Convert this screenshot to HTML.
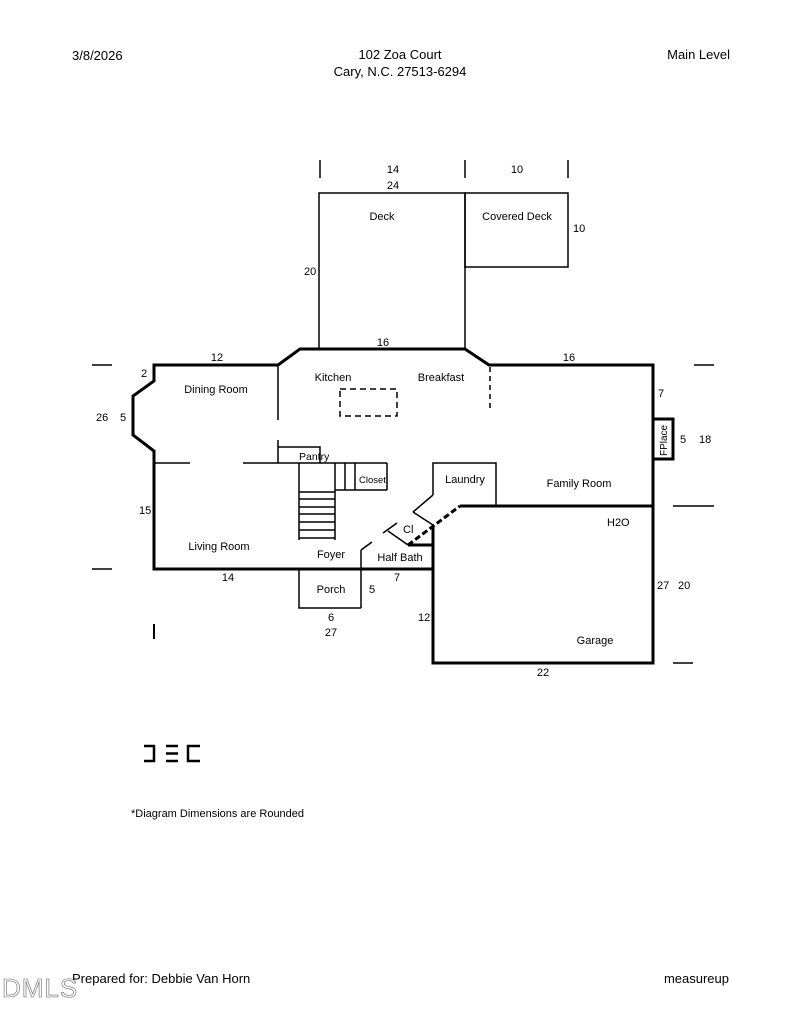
<!DOCTYPE html>
<html><head><meta charset="utf-8"><style>
html,body{margin:0;padding:0;background:#fff;}
svg{display:block;font-family:"Liberation Sans",Arial,sans-serif;}
</style></head><body>
<svg width="800" height="1035" viewBox="0 0 800 1035" xmlns="http://www.w3.org/2000/svg">
<g font-size="13" fill="#000">
<text x="72" y="60">3/8/2026</text>
<text x="400" y="59" text-anchor="middle">102 Zoa Court</text>
<text x="400" y="76" text-anchor="middle">Cary, N.C. 27513-6294</text>
<text x="730" y="59" text-anchor="end">Main Level</text>
</g>
<g stroke="#000" fill="none" stroke-width="1.5">
<!-- top ticks -->
<line x1="320" y1="160" x2="320" y2="178"/><line x1="465" y1="160" x2="465" y2="178"/><line x1="568" y1="160" x2="568" y2="178"/>
<!-- deck -->
<rect x="319" y="193" width="146" height="156"/>
<rect x="465" y="193" width="103" height="74"/>
<!-- side ticks -->
<line x1="92" y1="365" x2="112" y2="365"/><line x1="92" y1="569" x2="112" y2="569"/>
<line x1="694" y1="365" x2="714" y2="365"/><line x1="673" y1="506" x2="714" y2="506"/>
<line x1="673" y1="663" x2="693" y2="663"/><line x1="154" y1="624" x2="154" y2="639" stroke-width="2"/>
<!-- interior -->
<line x1="278" y1="365" x2="278" y2="420"/>
<polyline points="278,440 278,463"/>
<polyline points="278,447 320,447 320,463"/>
<line x1="154" y1="463" x2="190" y2="463"/>
<line x1="243" y1="463" x2="387" y2="463"/>
<polyline points="299,463 299,540"/>
<polyline points="335,463 335,540"/>
<line x1="299" y1="492" x2="335" y2="492"/><line x1="299" y1="499" x2="335" y2="499"/><line x1="299" y1="507" x2="335" y2="507"/><line x1="299" y1="514" x2="335" y2="514"/><line x1="299" y1="522" x2="335" y2="522"/><line x1="299" y1="530" x2="335" y2="530"/><line x1="299" y1="538" x2="335" y2="538"/>
<line x1="345" y1="463" x2="345" y2="490"/><line x1="355" y1="463" x2="355" y2="490"/>
<line x1="335" y1="490" x2="387" y2="490"/><line x1="387" y1="463" x2="387" y2="490"/>
<polyline points="433,495 433,463 496,463 496,506"/>
<line x1="433" y1="495" x2="413" y2="512"/><line x1="413" y1="512" x2="433" y2="525"/>
<line x1="383" y1="533" x2="397" y2="523"/><line x1="388" y1="531" x2="408" y2="545"/>
<line x1="361" y1="550" x2="372" y2="542"/>
<line x1="361" y1="550" x2="361" y2="608"/>
<polyline points="299,569 299,608 361,608"/>
<rect x="340" y="389" width="57" height="27" stroke-dasharray="6,4"/>
<line x1="490" y1="367" x2="490" y2="409" stroke-dasharray="5,4"/>
</g>
<g stroke="#000" fill="none" stroke-width="3">
<polyline points="278,365 154,365 154,381 133,396 133,435 154,451 154,569 433,569"/>
<polyline points="278,365 300,349 465,349 489,365 653,365 653,663 433,663 433,527"/>
<rect x="653" y="419" width="20" height="40"/>
<line x1="460" y1="506" x2="653" y2="506"/>
<line x1="408" y1="545" x2="460" y2="506" stroke-dasharray="6,3"/>
<line x1="408" y1="545" x2="433" y2="545"/>
</g>
<g font-size="11" fill="#000">
<text x="393" y="173" text-anchor="middle">14</text>
<text x="517" y="173" text-anchor="middle">10</text>
<text x="393" y="189" text-anchor="middle">24</text>
<text x="382" y="220" text-anchor="middle">Deck</text>
<text x="517" y="220" text-anchor="middle">Covered Deck</text>
<text x="573" y="232">10</text>
<text x="304" y="275">20</text>
<text x="383" y="346" text-anchor="middle">16</text>
<text x="217" y="361" text-anchor="middle">12</text>
<text x="569" y="361" text-anchor="middle">16</text>
<text x="141" y="377">2</text>
<text x="216" y="393" text-anchor="middle">Dining Room</text>
<text x="333" y="381" text-anchor="middle">Kitchen</text>
<text x="441" y="381" text-anchor="middle">Breakfast</text>
<text x="658" y="397">7</text>
<text x="96" y="421">26</text>
<text x="120" y="421">5</text>
<text x="680" y="443">5</text>
<text x="699" y="443">18</text>
<text transform="translate(667,456) rotate(-90)" font-size="10">FPlace</text>
<text x="299" y="460" font-size="10.5">Pantry</text>
<text x="359" y="483" font-size="9.5">Closet</text>
<text x="465" y="483" text-anchor="middle">Laundry</text>
<text x="579" y="487" text-anchor="middle">Family Room</text>
<text x="139" y="514">15</text>
<text x="607" y="526">H2O</text>
<text x="403" y="533">Cl</text>
<text x="219" y="550" text-anchor="middle">Living Room</text>
<text x="331" y="558" text-anchor="middle">Foyer</text>
<text x="400" y="561" text-anchor="middle">Half Bath</text>
<text x="228" y="581" text-anchor="middle">14</text>
<text x="397" y="581" text-anchor="middle">7</text>
<text x="331" y="593" text-anchor="middle">Porch</text>
<text x="369" y="593">5</text>
<text x="657" y="589">27</text>
<text x="678" y="589">20</text>
<text x="331" y="621" text-anchor="middle">6</text>
<text x="418" y="621">12</text>
<text x="331" y="636" text-anchor="middle">27</text>
<text x="595" y="644" text-anchor="middle">Garage</text>
<text x="543" y="676" text-anchor="middle">22</text>
<text x="131" y="817">*Diagram Dimensions are Rounded</text>
</g>
<g stroke="#000" stroke-width="2.5" fill="none">
<polyline points="144,746 154,746 154,761 144,761"/>
<line x1="166" y1="746" x2="178" y2="746"/><line x1="166" y1="753.5" x2="178" y2="753.5"/><line x1="166" y1="761" x2="178" y2="761"/>
<polyline points="200,746 188,746 188,761 200,761"/>
</g>
<g fill="#000" font-size="13">
<text x="72" y="983">Prepared for: Debbie Van Horn</text>
<text x="729" y="983" text-anchor="end">measureup</text>
</g>
<text x="2" y="997" font-size="26" fill="#fff" stroke="#666" stroke-width="0.6" font-weight="100" letter-spacing="1">DMLS</text>
</svg>
</body></html>
